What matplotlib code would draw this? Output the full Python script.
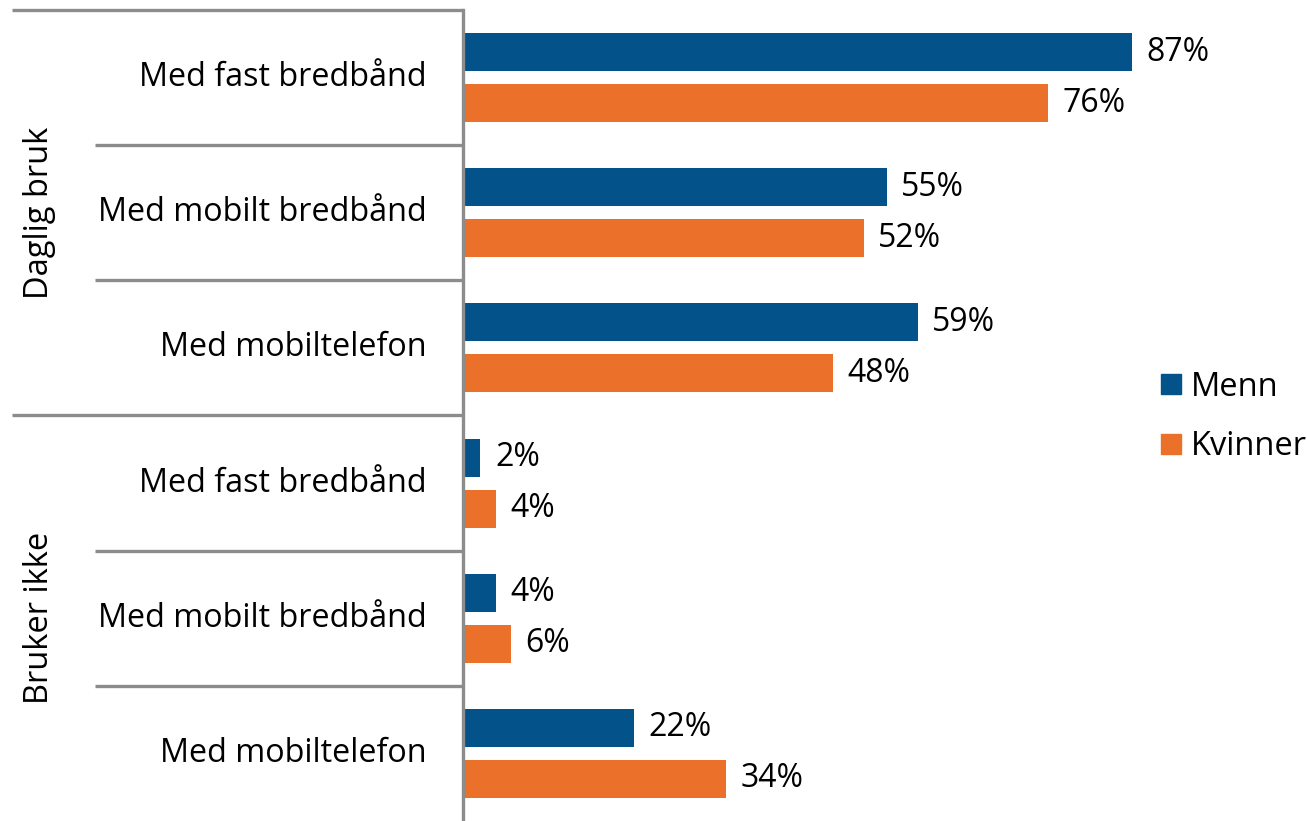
import matplotlib.pyplot as plt
import matplotlib.transforms as mtransforms
from matplotlib.patches import Patch

plt.rcParams['font.family'] = ['Open Sans', 'DejaVu Sans']

# data
groups = ["Daglig bruk", "Bruker ikke"]
categories = ["Med fast bredbånd", "Med mobilt bredbånd", "Med mobiltelefon",
              "Med fast bredbånd", "Med mobilt bredbånd", "Med mobiltelefon"]
menn = [87, 55, 59, 2, 4, 22]
kvinner = [76, 52, 48, 4, 6, 34]

blue = "#03538A"
orange = "#EB712A"
grey = "#8C8C8C"

W, H = 1307, 821
fig = plt.figure(figsize=(W / 100, H / 100), dpi=100)
ax_left = 465 / W
ax_top = 10 / H
ax = fig.add_axes([ax_left, 0, 1 - ax_left, 1 - ax_top])

xmax = (W - 465) / 7.67
ax.set_xlim(0, xmax)
ax.set_ylim(len(categories), 0)

pos = [i + 0.5 for i in range(len(categories))]
bh = 0.281
off = 0.189
ax.barh([p - off for p in pos], menn, height=bh, color=blue, label="Menn")
ax.barh([p + off for p in pos], kvinner, height=bh, color=orange, label="Kvinner")

for p, m, k in zip(pos, menn, kvinner):
    ax.text(m + 1.9, p - off, f"{m}%", va="center", ha="left", fontsize=23)
    ax.text(k + 1.9, p + off, f"{k}%", va="center", ha="left", fontsize=23)

for s in ["top", "right", "bottom", "left"]:
    ax.spines[s].set_visible(False)
ax.set_xticks([])
ax.set_yticks([])

# axis line and category grid on the left
tr = mtransforms.blended_transform_factory(fig.transFigure, ax.transData)
axis_x = 463 / W
ax.plot([axis_x, axis_x], [0, 6.1], color=grey, lw=2.4, transform=tr, clip_on=False)
for y in range(6):
    x0 = 12 / W if y % 3 == 0 else 95 / W
    ax.plot([x0, axis_x], [y, y], color=grey, lw=2.4, transform=tr,
            clip_on=False, solid_capstyle="butt")

for p, c in zip(pos, categories):
    ax.text(427 / W, p, c, transform=tr, ha="right", va="center", fontsize=23.3)

for g, name in enumerate(groups):
    ax.text(40 / W, g * 3 + 1.5, name, transform=tr, ha="center", va="center",
            rotation=90, fontsize=23.5)

handles = [Patch(color=blue, label="Menn"), Patch(color=orange, label="Kvinner")]
fig.legend(handles=handles, loc="center left", bbox_to_anchor=(1148 / W, 1 - 417 / H),
           frameon=False, fontsize=23.5, handlelength=0.6, handleheight=0.6,
           handletextpad=0.3, labelspacing=0.82, borderaxespad=0)

fig.savefig("out.png", dpi=100)
